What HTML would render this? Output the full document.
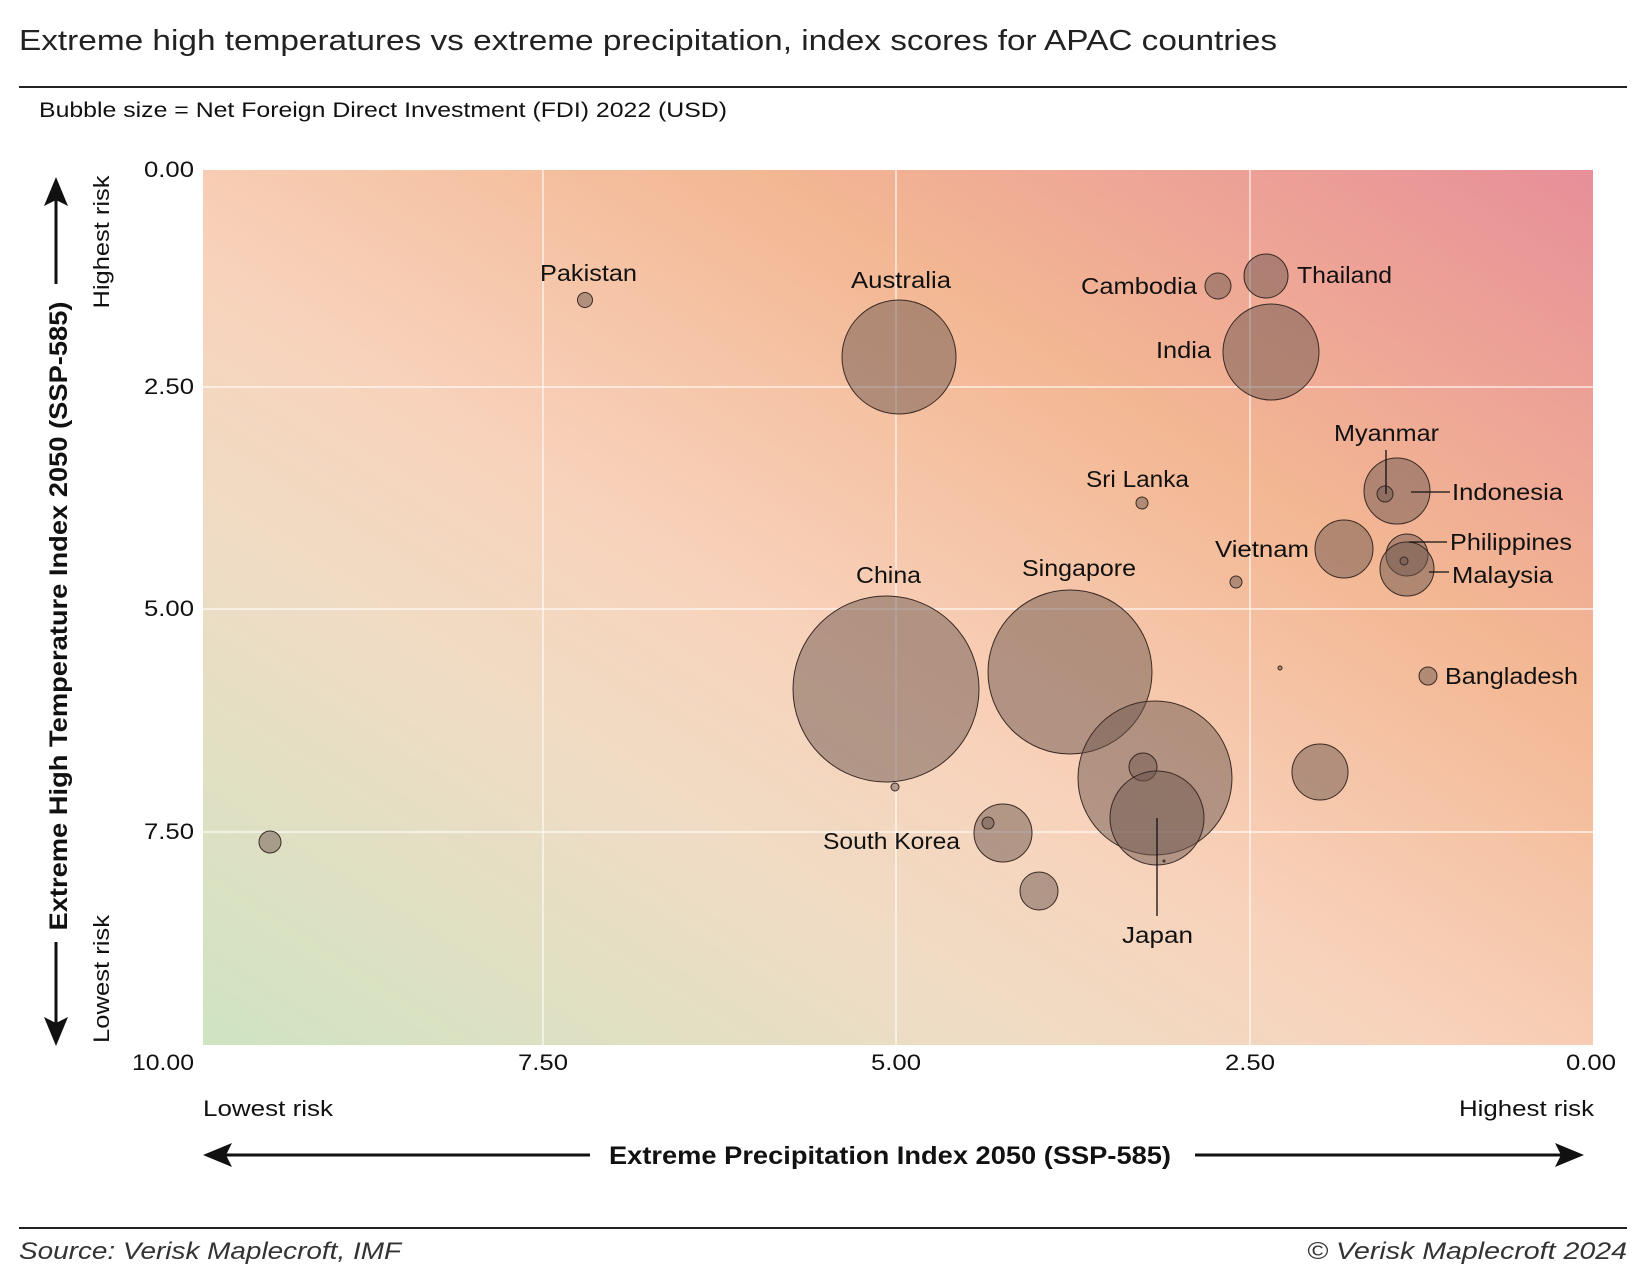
<!DOCTYPE html>
<html><head><meta charset="utf-8"><style>
html,body{margin:0;padding:0;background:#fff;}
svg{display:block;font-family:"Liberation Sans",sans-serif;}
</style></head><body>
<svg width="1643" height="1277" viewBox="0 0 1643 1277" xmlns="http://www.w3.org/2000/svg">
<defs>
<linearGradient id="bg" x1="0" y1="1" x2="1" y2="0">
<stop offset="0" stop-color="#cfe4c2"/>
<stop offset="0.3" stop-color="#f0dcc4"/>
<stop offset="0.45" stop-color="#f8d2bb"/>
<stop offset="0.7" stop-color="#f3b793"/>
<stop offset="1" stop-color="#e78f99"/>
</linearGradient>
</defs>
<text x="19" y="50" font-size="29" fill="#222" textLength="1258" lengthAdjust="spacingAndGlyphs">Extreme high temperatures vs extreme precipitation, index scores for APAC countries</text>
<line x1="19" y1="87" x2="1627" y2="87" stroke="#222" stroke-width="2"/>
<text x="39" y="117" font-size="21" fill="#111" textLength="688" lengthAdjust="spacingAndGlyphs">Bubble size = Net Foreign Direct Investment (FDI) 2022 (USD)</text>

<rect x="203" y="170" width="1390" height="875" fill="url(#bg)"/>
<g stroke="#fff" stroke-width="1.2" opacity="0.9">
<line x1="543" y1="170" x2="543" y2="1045"/>
<line x1="896" y1="170" x2="896" y2="1045"/>
<line x1="1250" y1="170" x2="1250" y2="1045"/>
<line x1="203" y1="387" x2="1593" y2="387"/>
<line x1="203" y1="609" x2="1593" y2="609"/>
<line x1="203" y1="832" x2="1593" y2="832"/>
</g>

<g fill="rgba(110,88,80,0.5)" stroke="#3a2a25" stroke-width="1">
<circle cx="585" cy="300" r="7.5"/>
<circle cx="899" cy="357" r="57"/>
<circle cx="1218" cy="286" r="13"/>
<circle cx="1266" cy="276" r="22"/>
<circle cx="1271" cy="352" r="48"/>
<circle cx="1142" cy="503" r="6"/>
<circle cx="1397" cy="491" r="33"/>
<circle cx="1385" cy="494" r="8"/>
<circle cx="1344" cy="549" r="29"/>
<circle cx="1407" cy="555" r="21"/>
<circle cx="1407" cy="569" r="27"/>
<circle cx="1404" cy="561" r="4"/>
<circle cx="1236" cy="582" r="6"/>
<circle cx="1280" cy="668" r="2"/>
<circle cx="1428" cy="676" r="9"/>
<circle cx="886" cy="689" r="93"/>
<circle cx="1070" cy="672" r="82"/>
<circle cx="895" cy="787" r="4"/>
<circle cx="1155" cy="778" r="77"/>
<circle cx="1143" cy="767" r="14"/>
<circle cx="1157" cy="818" r="47"/>
<circle cx="1320" cy="772" r="28"/>
<circle cx="1003" cy="833" r="29"/>
<circle cx="988" cy="823" r="6"/>
<circle cx="1039" cy="891" r="19"/>
<circle cx="270" cy="842" r="11"/>
<circle cx="1164" cy="861" r="1"/>
</g>

<g stroke="#111" stroke-width="1.3">
<line x1="1386" y1="450" x2="1386" y2="494"/>
<line x1="1411" y1="492" x2="1450" y2="492"/>
<line x1="1409" y1="542" x2="1447" y2="542"/>
<line x1="1429" y1="572" x2="1449" y2="572"/>
<line x1="1157" y1="818" x2="1157" y2="916"/>
</g>

<g font-size="23" fill="#111">
<text x="540" y="281" textLength="97" lengthAdjust="spacingAndGlyphs">Pakistan</text>
<text x="851" y="288" textLength="100" lengthAdjust="spacingAndGlyphs">Australia</text>
<text x="1081" y="294" textLength="116" lengthAdjust="spacingAndGlyphs">Cambodia</text>
<text x="1297" y="283" textLength="95" lengthAdjust="spacingAndGlyphs">Thailand</text>
<text x="1156" y="358" textLength="55" lengthAdjust="spacingAndGlyphs">India</text>
<text x="1334" y="441" textLength="105" lengthAdjust="spacingAndGlyphs">Myanmar</text>
<text x="1452" y="500" textLength="111" lengthAdjust="spacingAndGlyphs">Indonesia</text>
<text x="1086" y="487" textLength="103" lengthAdjust="spacingAndGlyphs">Sri Lanka</text>
<text x="1215" y="557" textLength="94" lengthAdjust="spacingAndGlyphs">Vietnam</text>
<text x="1450" y="550" textLength="122" lengthAdjust="spacingAndGlyphs">Philippines</text>
<text x="1452" y="583" textLength="101" lengthAdjust="spacingAndGlyphs">Malaysia</text>
<text x="856" y="583" textLength="65" lengthAdjust="spacingAndGlyphs">China</text>
<text x="1022" y="576" textLength="114" lengthAdjust="spacingAndGlyphs">Singapore</text>
<text x="1445" y="684" textLength="133" lengthAdjust="spacingAndGlyphs">Bangladesh</text>
<text x="823" y="849" textLength="137" lengthAdjust="spacingAndGlyphs">South Korea</text>
<text x="1122" y="943" textLength="71" lengthAdjust="spacingAndGlyphs">Japan</text>
</g>

<g font-size="22" fill="#111">
<text x="194" y="177" text-anchor="end" textLength="50" lengthAdjust="spacingAndGlyphs">0.00</text>
<text x="194" y="394" text-anchor="end" textLength="50" lengthAdjust="spacingAndGlyphs">2.50</text>
<text x="194" y="616" text-anchor="end" textLength="50" lengthAdjust="spacingAndGlyphs">5.00</text>
<text x="194" y="839" text-anchor="end" textLength="50" lengthAdjust="spacingAndGlyphs">7.50</text>
<text x="194" y="1070" text-anchor="end" textLength="62" lengthAdjust="spacingAndGlyphs">10.00</text>
<text x="543" y="1070" text-anchor="middle" textLength="50" lengthAdjust="spacingAndGlyphs">7.50</text>
<text x="896" y="1070" text-anchor="middle" textLength="50" lengthAdjust="spacingAndGlyphs">5.00</text>
<text x="1250" y="1070" text-anchor="middle" textLength="50" lengthAdjust="spacingAndGlyphs">2.50</text>
<text x="1616" y="1070" text-anchor="end" textLength="50" lengthAdjust="spacingAndGlyphs">0.00</text>
<text x="203" y="1116" textLength="130" lengthAdjust="spacingAndGlyphs">Lowest risk</text>
<text x="1594" y="1116" text-anchor="end" textLength="135" lengthAdjust="spacingAndGlyphs">Highest risk</text>
<text transform="translate(109,242) rotate(-90)" text-anchor="middle" textLength="133" lengthAdjust="spacingAndGlyphs">Highest risk</text>
<text transform="translate(109,979) rotate(-90)" text-anchor="middle" textLength="128" lengthAdjust="spacingAndGlyphs">Lowest risk</text>
</g>

<text x="890" y="1164" font-size="25" font-weight="bold" fill="#111" text-anchor="middle" textLength="562" lengthAdjust="spacingAndGlyphs">Extreme Precipitation Index 2050 (SSP-585)</text>
<text transform="translate(67,616) rotate(-90)" font-size="25" font-weight="bold" fill="#111" text-anchor="middle" textLength="629" lengthAdjust="spacingAndGlyphs">Extreme High Temperature Index 2050 (SSP-585)</text>

<g stroke="#111" stroke-width="3" fill="#111">
<line x1="225" y1="1155" x2="590" y2="1155"/>
<path d="M203,1155 L232,1143 L226,1155 L232,1167 Z" stroke="none"/>
<line x1="1195" y1="1155" x2="1562" y2="1155"/>
<path d="M1584,1155 L1555,1143 L1561,1155 L1555,1167 Z" stroke="none"/>
<line x1="56" y1="200" x2="56" y2="284"/>
<path d="M56,177 L44,206 L56,200 L68,206 Z" stroke="none"/>
<line x1="56" y1="942" x2="56" y2="1023"/>
<path d="M56,1046 L44,1017 L56,1023 L68,1017 Z" stroke="none"/>
</g>

<line x1="19" y1="1228" x2="1627" y2="1228" stroke="#222" stroke-width="2"/>
<text x="19" y="1259" font-size="24" font-style="italic" fill="#333" textLength="382" lengthAdjust="spacingAndGlyphs">Source: Verisk Maplecroft, IMF</text>
<text x="1627" y="1259" font-size="24" font-style="italic" fill="#333" text-anchor="end" textLength="320" lengthAdjust="spacingAndGlyphs">© Verisk Maplecroft 2024</text>
</svg>
</body></html>
